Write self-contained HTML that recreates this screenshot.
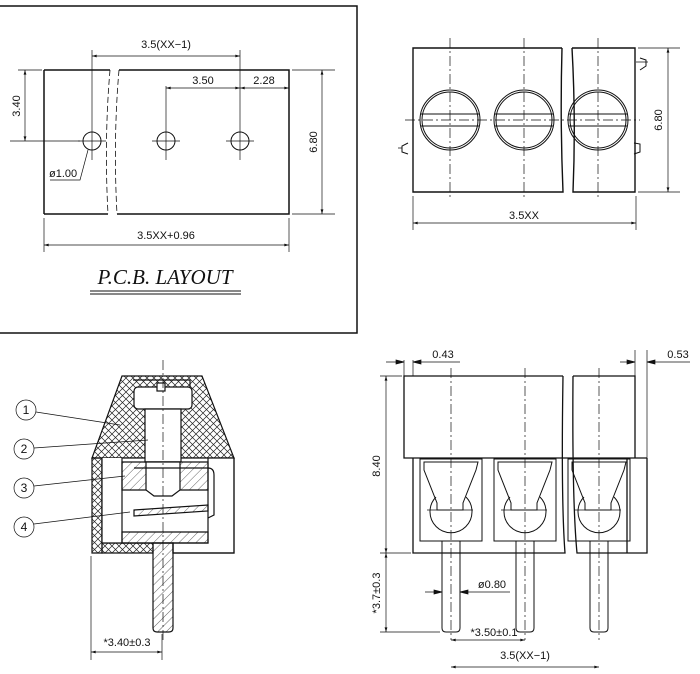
<!DOCTYPE html>
<html><head><meta charset="utf-8"><style>
html,body{margin:0;padding:0;background:#fff}
svg{display:block}
text{font-family:"Liberation Sans",sans-serif;fill:#111}
</style></head><body>
<svg width="700" height="674" viewBox="0 0 700 674" xmlns="http://www.w3.org/2000/svg">
<defs>
<marker id="a" viewBox="0 0 10 6" refX="10" refY="3" markerWidth="8" markerHeight="4" orient="auto-start-reverse"><path d="M0,0L10,3L0,6z" fill="#111"/></marker>
<pattern id="x" width="7" height="7" patternUnits="userSpaceOnUse"><path d="M0,0L7,7M7,0L0,7" stroke="#222" stroke-width="0.7"/></pattern>
<pattern id="h" width="6" height="6" patternUnits="userSpaceOnUse" patternTransform="rotate(45)"><path d="M0,0V6" stroke="#222" stroke-width="0.7"/></pattern>
</defs>
<g fill="none" stroke="#111" stroke-width="1">
<!-- frame -->
<path d="M0,6H357V333H0" stroke-width="1.5"/>
<!-- PCB -->
<path d="M44,70H110M119,70H289V214H117M108,214H44Z" stroke-width="1.5"/>
<path d="M44,214V70" stroke-width="1.5"/>
<path d="M110,70Q104,140 108,214M119,70Q113,140 117,214" stroke-dasharray="6,3" stroke-width="0.8"/>
<circle cx="92" cy="141" r="9"/><circle cx="166" cy="141" r="9"/><circle cx="240" cy="141" r="9"/>
<g stroke-width="0.7">
<path d="M78,141H106M92,127V160M152,141H180M166,86V160M226,141H254M240,50V160"/>
<path d="M92,50V127M10,141H80M18,70H42M292,70H335M292,214H335M44,218V252M289,218V252"/>
<path d="M92,56H240" marker-start="url(#a)" marker-end="url(#a)"/>
<path d="M166,88H240" marker-start="url(#a)" marker-end="url(#a)"/>
<path d="M240,88H289" marker-start="url(#a)" marker-end="url(#a)"/>
<path d="M25,70V141" marker-start="url(#a)" marker-end="url(#a)"/>
<path d="M322,70V214" marker-start="url(#a)" marker-end="url(#a)"/>
<path d="M44,245H289" marker-start="url(#a)" marker-end="url(#a)"/>
<path d="M50,180H80L88,150"/>
</g>
<path d="M90,291H241M90,294H241" stroke-width="1"/>
</g>
<g font-size="11">
<text x="166" y="48" text-anchor="middle">3.5(XX−1)</text>
<text x="203" y="84" text-anchor="middle">3.50</text>
<text x="264" y="84" text-anchor="middle">2.28</text>
<text x="20" y="106" text-anchor="middle" transform="rotate(-90 20 106)">3.40</text>
<text x="317" y="142" text-anchor="middle" transform="rotate(-90 317 142)">6.80</text>
<text x="166" y="239" text-anchor="middle">3.5XX+0.96</text>
<text x="49" y="177">ø1.00</text>
</g>
<text x="165" y="284" text-anchor="middle" font-size="21" font-style="italic" style="font-family:'Liberation Serif',serif">P.C.B.  LAYOUT</text>

<!-- top right -->
<g fill="none" stroke="#111" stroke-width="1.4">
<path d="M562,48H413V192H563Q560,120 562,48"/>
<path d="M572,48H635V192H573Q576,120 572,48"/>
<g stroke-width="1">
<circle cx="450" cy="120" r="30"/><circle cx="450" cy="120" r="28"/>
<circle cx="524" cy="120" r="30"/><circle cx="524" cy="120" r="28"/>
<circle cx="598" cy="120" r="30"/><circle cx="598" cy="120" r="28"/>
<path d="M421,114H479M421,126H479M495,114H553M495,126H553M569,114H627M569,126H627"/>
<path d="M408,143L402,146V152L408,154M640,58L646,60V66L640,70M634,143L640,144V152L634,154"/>
</g>
<g stroke-width="0.7" stroke-dasharray="10,3,2,3">
<path d="M450,38V200M524,38V200M598,38V200M405,120H640"/>
</g>
<g stroke-width="0.7">
<path d="M638,48H680M638,192H680M413,196V230M636,196V230M636,62H648M402,148H398"/>
<path d="M668,48V192" marker-start="url(#a)" marker-end="url(#a)"/>
<path d="M413,223H636" marker-start="url(#a)" marker-end="url(#a)"/>
</g>
</g>
<text x="524" y="219" text-anchor="middle" font-size="11">3.5XX</text>
<text x="662" y="120" text-anchor="middle" font-size="11" transform="rotate(-90 662 120)">6.80</text>

<!-- bottom left -->
<g stroke="#111" stroke-width="1.2">
<path d="M122,376H202L234,458H92Z" fill="url(#x)"/>
<path d="M92,458H102V553H92Z" fill="url(#x)"/>
<path d="M102,543H153V553H102Z" fill="url(#x)"/>
<path d="M102,458H234V553H173V543H122M102,458V543" fill="#fff"/>
<path d="M102,458V543H122V458" fill="#fff"/>
<path d="M234,458V553H173V543H208V458" fill="none"/>
<path d="M133,380H190V387" fill="none"/>
<rect x="134" y="387" width="58" height="22" rx="4" fill="#fff"/>
<rect x="157" y="383" width="8" height="8" fill="#fff"/>
<path d="M145,409H181V462H145Z" fill="#fff"/>
<path d="M122,462H208V490H122Z" fill="url(#h)"/>
<path d="M146,462H180V490L172,496H154L146,490Z" fill="#fff"/>
<path d="M134,468H208Q214,468 214,475V515L208,518" fill="none"/>
<path d="M134,510L208,505L208,511L134,516Z" fill="url(#h)"/>
<path d="M122,532H208V543H122Z" fill="url(#h)"/>
<path d="M153,543H173V628Q173,632 169,632H157Q153,632 153,628Z" fill="url(#h)"/>
</g>
<g fill="none" stroke="#111" stroke-width="0.7">
<path d="M163,360V640" stroke-dasharray="10,3,2,3"/>
<circle cx="26" cy="410" r="10"/><circle cx="24" cy="449" r="10"/><circle cx="24" cy="488" r="10"/><circle cx="24" cy="527" r="10"/>
<path d="M36,412L120,425M34,448L148,440M34,486L125,476M34,524L130,512"/>
<path d="M91,556V660M162,634V660"/>
<path d="M91,652H162" marker-start="url(#a)" marker-end="url(#a)"/>
</g>
<g font-size="12" text-anchor="middle">
<text x="26" y="414">1</text><text x="24" y="453">2</text><text x="24" y="492">3</text><text x="24" y="531">4</text>
</g>
<text x="127" y="646" text-anchor="middle" font-size="11">*3.40±0.3</text>

<!-- bottom right -->
<g fill="none" stroke="#111" stroke-width="1.3">
<path d="M563,376H404V458H563M413,458V553H565Q561,500 563,376"/>
<path d="M573,376H635V458M647,458V553H577Q572,500 573,376"/>
<path d="M563,458H647M413,458V458"/>
<path d="M627,458V553"/>
<g stroke-width="1">
<g id="cell">
<rect x="420" y="459" width="62" height="82"/>
<path d="M424,462H478L476,470L463,503V510H437V503L424,470Z"/>
<path d="M436,497A21,21 0 1 0 466,497"/>
</g>
<use href="#cell" x="74"/><use href="#cell" x="148"/>
<path d="M442,541V628Q442,632 446,632H456Q460,632 460,628V541"/>
<path d="M516,541V628Q516,632 520,632H530Q534,632 534,628V541"/>
<path d="M590,541V628Q590,632 594,632H604Q608,632 608,628V541"/>
</g>
</g>
<g fill="none" stroke="#111" stroke-width="0.7">
<path d="M451,368V640M525,368V640M599,368V640M427,510H475M501,510H549M575,510H623" stroke-dasharray="10,3,2,3"/>
<path d="M404,360V376M413,360V376M386,362H404M413,362H460" />
<path d="M404,362L396,360V364Z" fill="#111"/><path d="M413,362L421,360V364Z" fill="#111"/>
<path d="M635,350V376M647,350V458M620,362H635M647,362H690"/>
<path d="M635,362L627,360V364Z" fill="#111"/><path d="M647,362L655,360V364Z" fill="#111"/>
<path d="M380,376H402M380,553H411M380,632H440"/>
<path d="M386,376V553" marker-start="url(#a)" marker-end="url(#a)"/>
<path d="M386,553V632" marker-start="url(#a)" marker-end="url(#a)"/>
<path d="M425,592H442M460,592H510"/>
<path d="M442,592L434,590V594Z" fill="#111"/><path d="M460,592L468,590V594Z" fill="#111"/>
<path d="M451,640H525" marker-start="url(#a)" marker-end="url(#a)"/>
<path d="M451,667H599" marker-start="url(#a)" marker-end="url(#a)"/>
</g>
<g font-size="11">
<text x="443" y="358" text-anchor="middle">0.43</text>
<text x="678" y="358" text-anchor="middle">0.53</text>
<text x="380" y="466" text-anchor="middle" transform="rotate(-90 380 466)">8.40</text>
<text x="380" y="593" text-anchor="middle" transform="rotate(-90 380 593)">*3.7±0.3</text>
<text x="492" y="588" text-anchor="middle">ø0.80</text>
<text x="494" y="636" text-anchor="middle">*3.50±0.1</text>
<text x="525" y="659" text-anchor="middle">3.5(XX−1)</text>
</g>
</svg>
</body></html>
